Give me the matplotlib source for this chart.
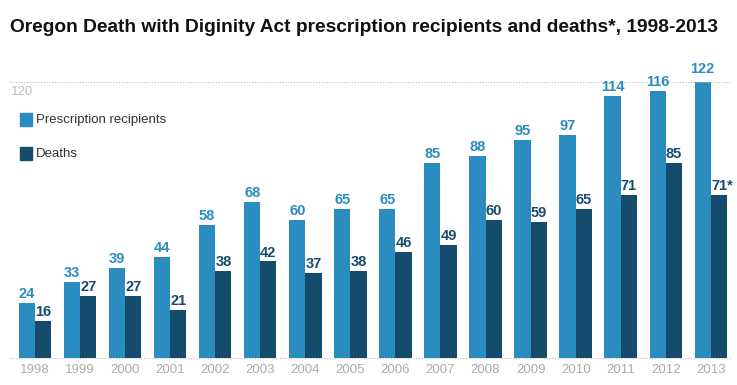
import matplotlib.pyplot as plt
from matplotlib.patches import Rectangle

plt.rcParams['font.family'] = ['Liberation Sans', 'DejaVu Sans']

years = ['1998', '1999', '2000', '2001', '2002', '2003', '2004', '2005',
         '2006', '2007', '2008', '2009', '2010', '2011', '2012', '2013']
recipients = [24, 33, 39, 44, 58, 68, 60, 65, 65, 85, 88, 95, 97, 114, 116, 122]
deaths = [16, 27, 27, 21, 38, 42, 37, 38, 46, 49, 60, 59, 65, 71, 85, 71]
death_labels = [str(d) for d in deaths[:-1]] + ['71*']

blue = '#2b8cc0'
dark = '#164c6b'

fig = plt.figure(figsize=(7.37, 3.85), dpi=100)
ax = fig.add_axes([10 / 737, (385 - 358) / 385, 722 / 737, 276 / 385])

x = list(range(len(years)))
w = 0.36
ax.bar([i - w / 2 for i in x], recipients, width=w, color=blue)
ax.bar([i + w / 2 for i in x], deaths, width=w, color=dark)

for i in x:
    ax.text(i - w / 2, recipients[i] + 0.8, str(recipients[i]), ha='center', va='bottom',
            color=blue, fontsize=10.5, fontweight='bold')
    lab = death_labels[i]
    ax.text(i + w / 2 + (0.07 if lab.endswith('*') else 0), deaths[i] + 0.8, lab,
            ha='center', va='bottom', color=dark, fontsize=10.5, fontweight='bold')

ax.set_xlim(-0.555, 15.47)
ax.set_ylim(0, 120)
ax.axhline(120, color='#bbbbbb', lw=0.8, ls=(0, (1, 1.5)), clip_on=False)
ax.axhline(0, color='#bbbbbb', lw=0.8, ls=(0, (1, 1.5)), clip_on=False)
for s in ax.spines.values():
    s.set_visible(False)
ax.set_yticks([])
ax.set_xticks(x)
ax.set_xticklabels(years, color='#aaaaaa', fontsize=9.5)
ax.tick_params(axis='x', length=0, pad=4)

ax.text(0.002, 0.985, '120', transform=ax.transAxes, ha='left', va='top',
        color='#bbbbbb', fontsize=9.5)

# legend
fig.patches.append(Rectangle((20 / 737, 1 - 126 / 385), 12 / 737, 13 / 385,
                             transform=fig.transFigure, color=blue))
fig.text(36 / 737, 1 - 119.5 / 385, 'Prescription recipients', va='center',
         fontsize=9.5, color='#333333')
fig.patches.append(Rectangle((20 / 737, 1 - 160 / 385), 12 / 737, 13 / 385,
                             transform=fig.transFigure, color=dark))
fig.text(36 / 737, 1 - 153.5 / 385, 'Deaths', va='center',
         fontsize=9.5, color='#333333')

fig.text(10 / 737, 1 - 28 / 385,
         'Oregon Death with Diginity Act prescription recipients and deaths*, 1998-2013',
         va='center', ha='left', fontsize=13.8, fontweight='bold', color='#111111')

fig.savefig('out.png', dpi=100)
